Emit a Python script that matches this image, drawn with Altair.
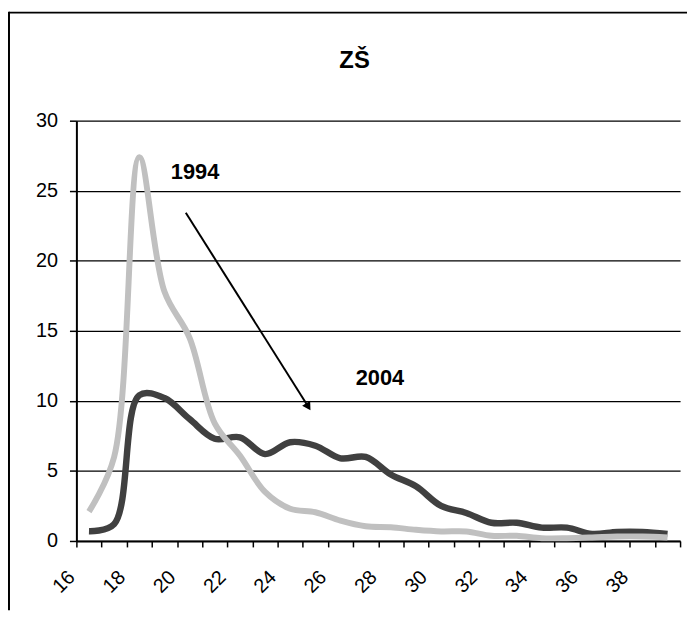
import json
import altair as alt
import pandas as pd

# ---------------- data ----------------
chart_title = "ZŠ"
ages = list(range(16, 40))
values_1994 = [2.1, 6.0, 27.4, 17.8, 14.5, 8.4, 6.1, 3.5, 2.3, 2.05,
               1.45, 1.05, 0.98, 0.8, 0.68, 0.68, 0.37, 0.37, 0.2, 0.2,
               0.25, 0.32, 0.32, 0.25]
values_2004 = [0.7, 1.2, 10.4, 10.2, 8.7, 7.3, 7.4, 6.2, 7.05, 6.8,
               5.9, 6.0, 4.75, 3.9, 2.5, 2.0, 1.3, 1.3, 0.95, 0.95,
               0.5, 0.65, 0.65, 0.5]
series_names = ["1994", "2004"]
x_tick_labels = ["16", "18", "20", "22", "24", "26", "28", "30", "32", "34", "36", "38"]
y_tick_values = [0, 5, 10, 15, 20, 25, 30]

# annotation anchors in data coordinates
label_1994_xy = (20.22, 25.86)
label_2004_xy = (27.57, 11.11)
arrow_from = (19.85, 23.43)
arrow_to = (24.72, 9.58)

FONT = "Liberation Sans"

# ---------------- scales / axes ----------------
x_scale = alt.Scale(domain=[15.5, 39.5], nice=False, zero=False)
y_scale = alt.Scale(domain=[0, 30], nice=False, zero=True)

boundaries = [15.5 + i for i in range(len(ages) + 1)]
label_list = []
for i in range(len(boundaries)):
    if i % 2 == 0 and i // 2 < len(x_tick_labels):
        label_list.append(x_tick_labels[i // 2])
    else:
        label_list.append("")
label_expr = json.dumps(label_list) + "[round(datum.value - 15.5)]"

x_axis = alt.Axis(values=boundaries, labelExpr=label_expr, labelAngle=315,
                  labelAlign="right", labelBaseline="middle", labelPadding=27,
                  labelOffset=-5, labelFontSize=20, labelFont=FONT,
                  labelColor="black", labelOverlap=False, labelFlush=False,
                  tickSize=6, tickColor="black", tickWidth=1.5,
                  domainColor="black", domainWidth=2, grid=False, title=None)
y_axis = alt.Axis(values=y_tick_values, grid=True, gridColor="black",
                  gridWidth=1.3, gridOpacity=1, domainColor="black",
                  domainWidth=2, tickColor="black", tickSize=7, tickWidth=1.5,
                  labelFontSize=20, labelFont=FONT, labelColor="black",
                  labelPadding=12, labelFlush=False, title=None)

X = lambda f: alt.X(f, scale=x_scale, axis=x_axis)
Y = lambda f: alt.Y(f, scale=y_scale, axis=y_axis)

df_1994 = pd.DataFrame({"age": ages, "value": values_1994, "series": series_names[0]})
df_2004 = pd.DataFrame({"age": ages, "value": values_2004, "series": series_names[1]})

line_2004 = alt.Chart(df_2004).mark_line(
    color="#404040", strokeWidth=6.5, interpolate="catmull-rom",
    strokeCap="butt", strokeJoin="round"
).encode(x=X("age:Q"), y=Y("value:Q"))

line_1994 = alt.Chart(df_1994).mark_line(
    color="#C0C0C0", strokeWidth=6, interpolate="catmull-rom",
    strokeCap="butt", strokeJoin="round"
).encode(x=X("age:Q"), y=Y("value:Q"))

ann_df = pd.DataFrame({
    "x": [label_1994_xy[0], label_2004_xy[0]],
    "y": [label_1994_xy[1], label_2004_xy[1]],
    "label": series_names,
})
annotations = alt.Chart(ann_df).mark_text(
    font=FONT, fontSize=22, fontWeight="bold", align="center",
    baseline="alphabetic", color="black"
).encode(x=X("x:Q"), y=Y("y:Q"), text="label:N")

arrow_df = pd.DataFrame({"x": [arrow_from[0]], "y": [arrow_from[1]],
                         "x2": [arrow_to[0]], "y2": [arrow_to[1]]})
arrow_line = alt.Chart(arrow_df).mark_rule(color="black", strokeWidth=2).encode(
    x=X("x:Q"), y=Y("y:Q"), x2="x2:Q", y2="y2:Q")
arrow_head = alt.Chart(arrow_df).mark_point(
    shape="triangle-up", filled=True, size=90, angle=148, color="black", opacity=1
).encode(x=X("x2:Q"), y=Y("y2:Q"))

one = pd.DataFrame({"t": [chart_title]})
title_mark = alt.Chart(one).mark_text(
    font=FONT, fontSize=24, fontWeight="bold", align="center",
    baseline="alphabetic", color="black"
).encode(x=alt.value(280.6), y=alt.value(-53.6), text="t:N")

frame_top = alt.Chart(one).mark_rule(color="black", strokeWidth=2).encode(
    x=alt.value(-68), x2=alt.value(616), y=alt.value(-109))
frame_left = alt.Chart(one).mark_rule(color="black", strokeWidth=2).encode(
    x=alt.value(-68), y=alt.value(-110), y2=alt.value(494))

chart = alt.layer(
    frame_top, frame_left, title_mark, line_2004, line_1994,
    arrow_line, arrow_head, annotations
).properties(width=609, height=424, padding=0).configure_view(stroke=None)

chart.save("out.html", embed_options={"renderer": "svg", "actions": False})
